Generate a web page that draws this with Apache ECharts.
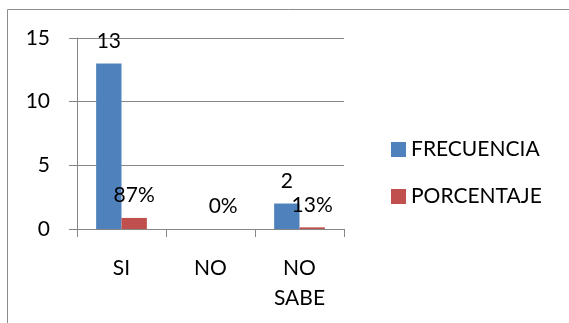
<!DOCTYPE html>
<html>
<head>
<meta charset="utf-8">
<script src="https://cdn.jsdelivr.net/npm/echarts@6/dist/echarts.min.js"></script>
<style>
  html, body { margin: 0; padding: 0; background: #fff; }
  #chart { width: 569px; height: 323px; }
</style>
</head>
<body>
<div id="chart"></div>
<script>
// Survey answers and their counts / shares
const categories = ['SI', 'NO', 'NO\nSABE'];
const frecuencia = [13, 0, 2];
const porcentaje = [0.87, 0, 0.13];
const seriesNames = ['FRECUENCIA', 'PORCENTAJE'];
const yTicks = { min: 0, max: 15, interval: 5 };

const FONT = 'Lato, "Open Sans", sans-serif';
const TEXT = '#000';
const AXIS = '#868686';

const chart = echarts.init(document.getElementById('chart'), null, { renderer: 'canvas' });

const labelStyle = {
  show: true,
  position: 'top',
  distance: 12,
  fontFamily: FONT,
  fontSize: 21,
  color: TEXT
};

// Counts of zero carry no label; shares always do
const freqData = frecuencia.map(v => ({ value: v, label: { show: v !== 0 } }));

chart.setOption({
  animation: false,
  backgroundColor: '#fff',
  graphic: [{
    type: 'rect',
    shape: { x: 7.5, y: 9.5, width: 600, height: 400 },
    style: { fill: 'none', stroke: '#8c8c8c', lineWidth: 1 },
    silent: true
  }],
  grid: { left: 77, right: 225, top: 38, bottom: 94, containLabel: false },
  legend: {
    orient: 'vertical',
    left: 386,
    top: 134,
    itemWidth: 15,
    itemHeight: 15,
    itemGap: 26,
    icon: 'rect',
    textStyle: { fontFamily: FONT, fontSize: 21, color: TEXT, padding: [0, 0, 0, 0] },
    data: seriesNames
  },
  xAxis: {
    type: 'category',
    data: categories,
    axisLine: { show: true, lineStyle: { color: AXIS, width: 1 } },
    axisTick: { show: true, length: 8, lineStyle: { color: AXIS } },
    axisLabel: {
      interval: 0,
      margin: 24,
      fontFamily: FONT,
      fontSize: 21,
      lineHeight: 30,
      color: TEXT,
      verticalAlign: 'top'
    }
  },
  yAxis: {
    type: 'value',
    min: yTicks.min,
    max: yTicks.max,
    interval: yTicks.interval,
    axisLine: { show: true, lineStyle: { color: AXIS, width: 1 } },
    axisTick: { show: true, length: 8, lineStyle: { color: AXIS } },
    splitLine: { show: true, lineStyle: { color: AXIS, width: 1 } },
    axisLabel: {
      margin: 27,
      fontFamily: FONT,
      fontSize: 21,
      color: TEXT
    }
  },
  series: [
    {
      name: seriesNames[0],
      type: 'bar',
      data: freqData,
      barGap: '0%',
      barCategoryGap: '43%',
      itemStyle: { color: '#4F81BD' },
      label: Object.assign({}, labelStyle, { formatter: p => String(p.value) })
    },
    {
      name: seriesNames[1],
      type: 'bar',
      data: porcentaje,
      barGap: '0%',
      barCategoryGap: '43%',
      itemStyle: { color: '#C0504D' },
      label: Object.assign({}, labelStyle, { formatter: p => Math.round(p.value * 100) + '%' })
    }
  ]
});
</script>
</body>
</html>
